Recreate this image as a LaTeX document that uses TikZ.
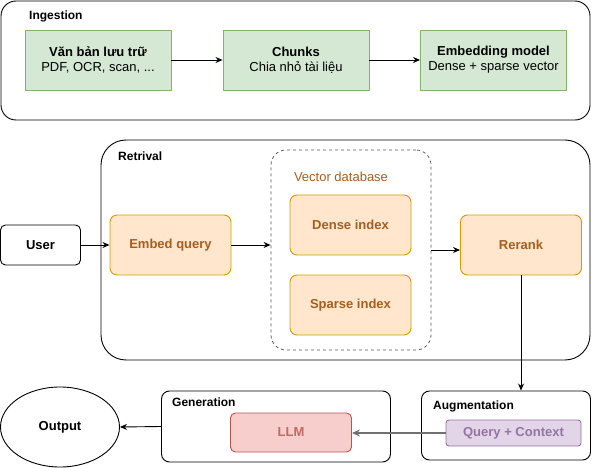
\documentclass[tikz,border=0pt]{standalone}
\usepackage{fontspec}
\setmainfont{Liberation Sans}
\usetikzlibrary{arrows.meta,shapes.geometric}
\definecolor{greenfill}{HTML}{D5E8D4}
\definecolor{greenline}{HTML}{82B366}
\definecolor{orangefill}{HTML}{FFE6CC}
\definecolor{orangeline}{HTML}{D79B00}
\definecolor{orangetext}{HTML}{A65E1E}
\definecolor{redfill}{HTML}{F8CECC}
\definecolor{redline}{HTML}{B85450}
\definecolor{redtext}{HTML}{C96561}
\definecolor{purplefill}{HTML}{E1D5E7}
\definecolor{purpleline}{HTML}{9673A6}
\definecolor{arrowgray}{HTML}{707070}

\begin{document}
\begin{tikzpicture}[x=1pt,y=-1pt,
  font=\fontsize{13}{15}\selectfont,
  group/.style={draw=black,line width=0.9pt,inner sep=0pt},
  greenbox/.style={draw=greenline,fill=greenfill,line width=0.9pt,minimum width=146pt,minimum height=60pt,align=center,inner sep=0pt},
  orangebox/.style={draw=orangeline,fill=orangefill,line width=0.9pt,rounded corners=7pt,minimum width=121pt,minimum height=60pt,inner sep=0pt,text=orangetext,font=\fontsize{13}{15}\selectfont\bfseries},
  title/.style={anchor=west,inner sep=0pt,font=\fontsize{12}{14}\selectfont\bfseries},
  flow/.style={line width=0.9pt,-{Stealth[length=7pt,width=6pt]}}]
\path[use as bounding box] (0,0) rectangle (592,468);
% Ingestion
\node[group,rounded corners=15pt,minimum width=589pt,minimum height=119pt] (ingest) at (295.5,60.5) {};
\node[title] (ingestlbl) at (29,16) {Ingestion};
\node[greenbox] (docs) at (98,60) {\textbf{Văn bản lưu trữ}\\PDF, OCR, scan, ...};
\node[greenbox] (chunks) at (296,60) {\textbf{Chunks}\\Chia nhỏ tài liệu};
\node[greenbox] (embmodel) at (493.5,60) {\textbf{Embedding model}\\Dense + sparse vector};
\draw[flow] (docs) -- (chunks);
\draw[flow] (chunks) -- (embmodel);
% Retrival
\node[group,rounded corners=25pt,minimum width=489pt,minimum height=220pt] (retr) at (345.5,250) {};
\node[title] (retrlbl) at (118,156) {Retrival};
\node[draw=black!65,dashed,line width=0.8pt,rounded corners=15pt,minimum width=160pt,minimum height=200pt,inner sep=0pt] (vdb) at (351,250) {};
\node[inner sep=0pt,text=orangetext] (vdblbl) at (341,177) {Vector database};
\node[orangebox] (dense) at (350.5,225) {Dense index};
\node[orangebox] (sparse) at (350.5,305) {Sparse index};
\node[orangebox] (embq) at (170.5,245) {Embed query};
\node[orangebox] (rerank) at (521,245) {Rerank};
\node[group,rounded corners=5pt,minimum width=80pt,minimum height=40pt,font=\fontsize{13}{15}\selectfont\bfseries] (user) at (40.5,245) {User};
\draw[flow] (user) -- (embq);
\draw[flow] (embq) -- (embq -| vdb.west);
\draw[flow] (vdb.east) -- (vdb.east -| rerank.west);
% Augmentation and Generation
\node[group,rounded corners=8pt,minimum width=169pt,minimum height=69pt] (aug) at (506,425.5) {};
\node[title] (auglbl) at (433,406) {Augmentation};
\node[draw=purpleline,fill=purplefill,line width=0.9pt,rounded corners=3pt,minimum width=135pt,minimum height=26pt,inner sep=0pt,text=purpleline,font=\fontsize{13}{15}\selectfont\bfseries] (qc) at (513.5,433) {Query + Context};
\node[group,rounded corners=8pt,minimum width=229pt,minimum height=71pt] (gen) at (276,426.5) {};
\node[title] (genlbl) at (172,402) {Generation};
\node[draw=redline,fill=redfill,line width=0.9pt,rounded corners=5pt,minimum width=121pt,minimum height=39pt,inner sep=0pt,text=redtext,font=\fontsize{13}{15}\selectfont\bfseries] (llm) at (291,432.5) {LLM};
\node[draw=black,line width=0.9pt,ellipse,minimum width=119pt,minimum height=80pt,inner sep=0pt,font=\fontsize{13}{15}\selectfont\bfseries] (output) at (60,427) {Output};
\draw[flow] (rerank.south) -- (rerank.south |- aug.north);
\draw[flow,draw=arrowgray,line width=1.5pt,-{Stealth[length=8pt,width=7pt,fill=black]}] (qc.west) -- (qc.west -| llm.east);
\draw[flow] (gen.west) -- (output.east);
\end{tikzpicture}
\end{document}
